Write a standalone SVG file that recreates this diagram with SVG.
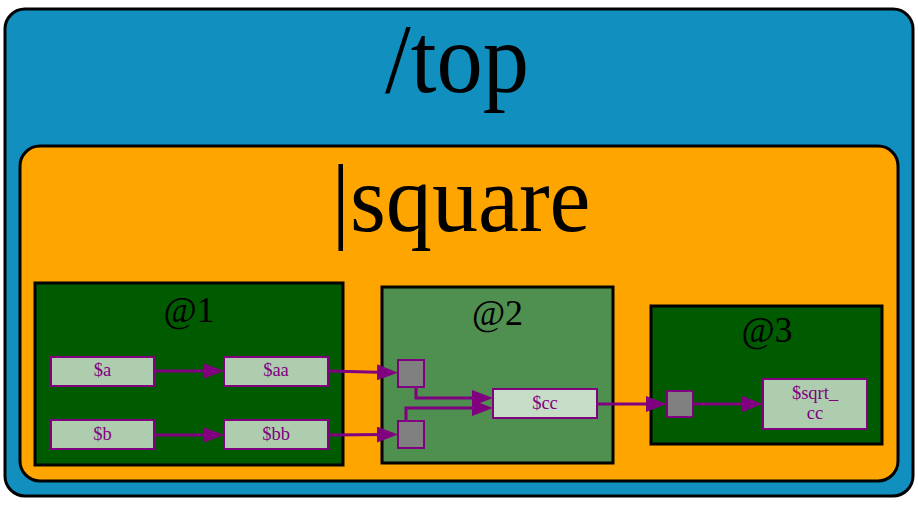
<svg xmlns="http://www.w3.org/2000/svg" width="918" height="509" viewBox="0 0 918 509">
<style>
.t{font-family:"Liberation Serif","Times New Roman",serif;fill:#000;text-anchor:middle}
.cl{font-size:36px}
.n rect{fill:#aecdae;stroke:#800080;stroke-width:2}
.n text{font-family:"Liberation Serif","Times New Roman",serif;font-size:18.5px;fill:#800080;text-anchor:middle}
.p rect{fill:#808080;stroke:#800080;stroke-width:2}
.e{fill:none;stroke:#800080;stroke-width:3}
</style>
<defs>
<marker id="ah" markerUnits="userSpaceOnUse" markerWidth="21" markerHeight="16" refX="11" refY="8" orient="auto">
<path d="M0,0 L21,8 L0,16 z" fill="#800080"/>
</marker>
</defs>
<rect width="918" height="509" fill="#fff"/>
<g id="top">
<rect x="5" y="9" width="908" height="487" rx="20" fill="#1190c0" stroke="#000" stroke-width="3"/>
<text class="t" x="457" y="92" font-size="100" textLength="144" lengthAdjust="spacingAndGlyphs">/top</text>
</g>
<g id="square">
<rect x="20" y="146" width="878" height="335" rx="20" fill="#ffa500" stroke="#000" stroke-width="3"/>
<text class="t" x="461" y="231" font-size="96" textLength="259" lengthAdjust="spacingAndGlyphs">|square</text>
</g>
<g id="c1">
<rect x="35" y="283" width="308" height="182" fill="#005a00" stroke="#000" stroke-width="3"/>
<text class="t cl" x="189" y="322">@1</text>
</g>
<g id="c2">
<rect x="382" y="287" width="231" height="176" fill="#4f8f4f" stroke="#000" stroke-width="3"/>
<text class="t cl" x="497.5" y="325">@2</text>
</g>
<g id="c3">
<rect x="651" y="306" width="231" height="138" fill="#005a00" stroke="#000" stroke-width="3"/>
<text class="t cl" x="767" y="342">@3</text>
</g>
<g id="n_a" class="n"><rect x="51" y="357" width="103" height="29"/><text x="102.5" y="376">$a</text></g>
<g id="n_aa" class="n"><rect x="224" y="357" width="104" height="29"/><text x="276" y="376">$aa</text></g>
<g id="n_b" class="n"><rect x="51" y="420" width="103" height="29"/><text x="102.5" y="440">$b</text></g>
<g id="n_bb" class="n"><rect x="224" y="420" width="104" height="29"/><text x="276" y="440">$bb</text></g>
<g id="p1" class="p"><rect x="398" y="360" width="26" height="27"/></g>
<g id="p2" class="p"><rect x="398" y="421" width="26" height="27"/></g>
<g id="n_cc" class="n"><rect x="493" y="389" width="104" height="29" style="fill:#c8ddc8"/><text x="545" y="409">$cc</text></g>
<g id="p3" class="p"><rect x="667" y="391" width="26" height="26"/></g>
<g id="n_sqrt_cc" class="n"><rect x="763" y="379" width="104" height="50"/><text x="815" y="398.5">$sqrt_</text><text x="815" y="419">cc</text></g>
<g id="edges">
<path class="e" d="M154,371 H214" marker-end="url(#ah)"/>
<path class="e" d="M328,371 L388,372.5" marker-end="url(#ah)"/>
<path class="e" d="M154,435 H214" marker-end="url(#ah)"/>
<path class="e" d="M328,435 L388,434.5" marker-end="url(#ah)"/>
<path class="e" d="M416,387 V398 H483" marker-end="url(#ah)"/>
<path class="e" d="M406,421 V408 H483" marker-end="url(#ah)"/>
<path class="e" d="M597,404 H657" marker-end="url(#ah)"/>
<path class="e" d="M693,404 H753" marker-end="url(#ah)"/>
</g>
</svg>
